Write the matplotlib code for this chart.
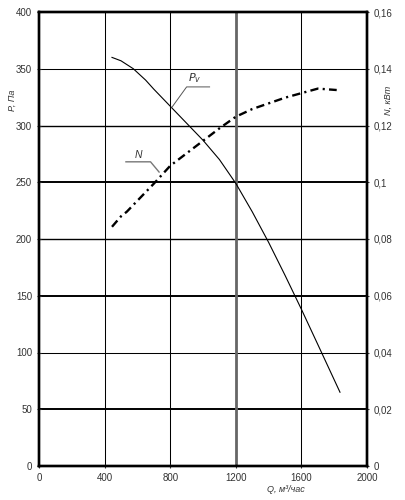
import matplotlib
matplotlib.use('Agg')
import matplotlib.pyplot as plt

plt.rcParams['font.family'] = ['Liberation Sans', 'DejaVu Sans']

# pressure curve P_v (Pa) vs flow Q (m3/h)
q_p = [445, 500, 575, 650, 700, 800, 900, 1000, 1100, 1200, 1300, 1400, 1500, 1600, 1700, 1835]
p_v = [360, 357, 350, 340, 332, 317, 302, 287, 270, 249, 224, 197, 168, 138, 107, 65]

# power curve N (kW) vs flow Q
q_n = [445, 500, 535, 600, 700, 800, 900, 1000, 1100, 1200, 1300, 1400, 1500, 1600, 1700, 1815]
n_kw = [0.0843, 0.088, 0.0896, 0.0935, 0.0995, 0.1058, 0.1102, 0.1146, 0.119,
        0.1231, 0.1258, 0.1278, 0.1298, 0.1314, 0.1330, 0.1325]

x_ticks = [0, 400, 800, 1200, 1600, 2000]
p_ticks = [0, 50, 100, 150, 200, 250, 300, 350, 400]
n_ticks = [0, 0.02, 0.04, 0.06, 0.08, 0.10, 0.12, 0.14, 0.16]
n_tick_labels = ['0', '0,02', '0,04', '0,06', '0,08', '0,1', '0,12', '0,14', '0,16']

fig = plt.figure(figsize=(4.05, 5.0), dpi=100)
ax = fig.add_axes([0.0963, 0.068, 0.81, 0.908])

# grid
hgrid_lw = {50: 1.4, 100: 0.75, 150: 1.4, 200: 1.0, 250: 1.4, 300: 1.0, 350: 0.75}
for yv, lw in hgrid_lw.items():
    ax.axhline(yv, color='black', lw=lw, zorder=1)
for xv in [400, 800, 1600]:
    ax.axvline(xv, color='black', lw=0.75, zorder=1)
ax.axvline(1200, color='#666666', lw=2.0, zorder=1)

ax.plot(q_p, p_v, color='black', lw=0.8, zorder=3)

ax.set_xlim(0, 2000)
ax.set_ylim(0, 400)
ax.set_xticks(x_ticks)
ax.set_yticks(p_ticks)
ax.tick_params(labelsize=7, length=3, direction='inout', width=0.8, colors='#333333')

for s in ax.spines.values():
    s.set_linewidth(1.7)
    s.set_color('black')

ax2 = ax.twinx()
ax2.plot(q_n, n_kw, color='black', lw=1.7, linestyle=(0, (3.5, 1.8, 0.9, 1.8)), zorder=3)
ax2.set_ylim(0, 0.16)
ax2.set_yticks(n_ticks)
ax2.set_yticklabels(n_tick_labels)
ax2.tick_params(labelsize=7, length=3, direction='inout', width=0.8, colors='#333333')
for s in ax2.spines.values():
    s.set_linewidth(1.7)
    s.set_color('black')

# curve labels with leader lines
ax.plot([810, 900, 1040], [316, 334, 334], color='#555555', lw=0.7, zorder=4)
ax.text(910, 336, r'$P_{v}$', fontsize=8, color='#333333', style='italic',
        ha='left', va='bottom')
ax.plot([530, 680, 732], [268, 268, 259], color='#777777', lw=1.0, zorder=4)
ax.text(585, 270, 'N', fontsize=7.5, color='#333333', style='italic',
        ha='left', va='bottom')

fig.text(0.03, 0.80, 'P, Па', rotation=90, fontsize=6.5, style='italic',
         color='#333333', ha='center', va='center')
fig.text(0.958, 0.80, 'N, кВт', rotation=90, fontsize=6.5, style='italic',
         color='#333333', ha='center', va='center')
fig.text(0.705, 0.022, 'Q, м³/час', fontsize=6.5, style='italic',
         color='#333333', ha='center', va='center')

fig.savefig('out.png', dpi=100)
